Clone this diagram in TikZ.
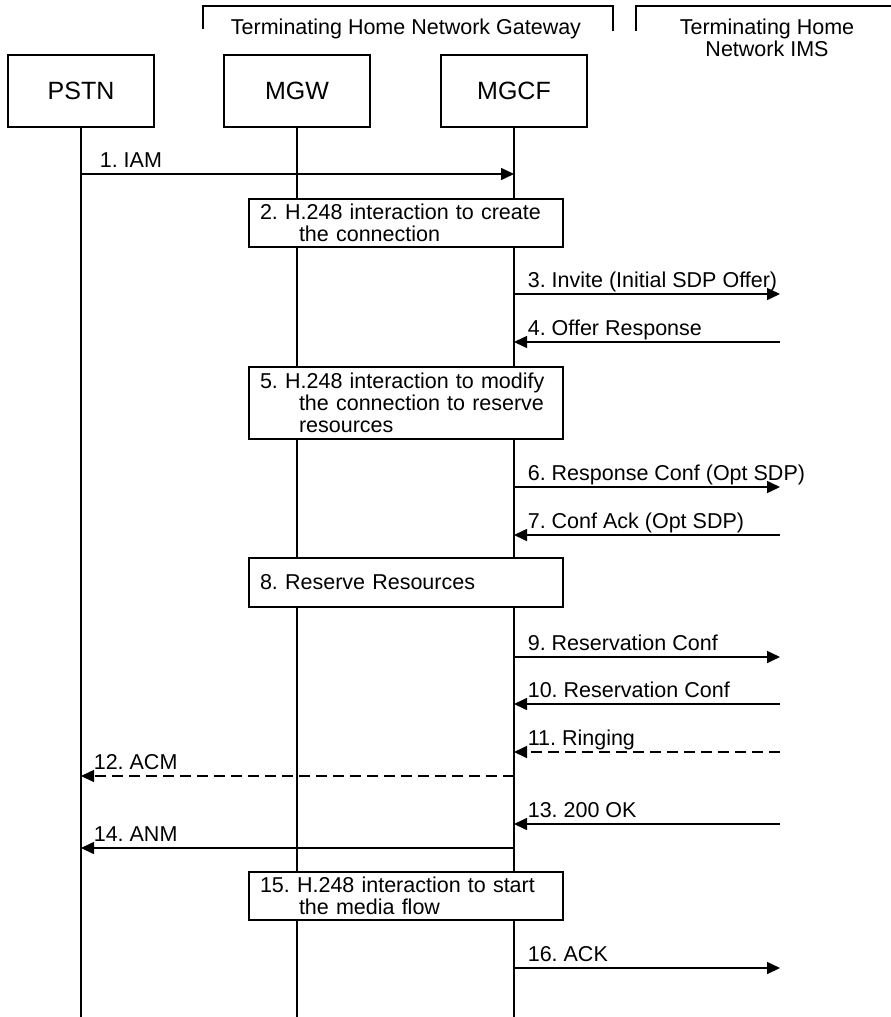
\documentclass[tikz,border=0pt]{standalone}
\usepackage{fontspec}
\setmainfont{Liberation Sans}
\usetikzlibrary{arrows.meta, calc}

\begin{document}
\frenchspacing
\begin{tikzpicture}[x=1pt, y=-1pt, line width=1.6pt,
    font=\fontsize{21.5}{22}\selectfont,
    entity/.style={draw, minimum width=146pt, minimum height=72pt, inner sep=0pt, font=\fontsize{25}{28}\selectfont},
    action/.style={draw, fill=white, minimum width=314pt, text width=292pt, inner xsep=11pt, inner ysep=0pt, align=left},
    msg/.style={-{Triangle[length=13pt, width=12pt]}},
    reply/.style={msg, dash pattern=on 11pt off 6pt},
    tag/.style={anchor=base west, inner sep=0pt}]
    \useasboundingbox (0,0) rectangle (891,1017);

    % network brackets
    \draw (203,29) |- (613,6) -- (613,31);
    \draw (636,31) -- (636,6) -- (891,6);
    \node (gwlabel) at (406,29) {Terminating Home Network Gateway};
    \node[align=center] (imslabel) at (767,38) {Terminating Home\\Network IMS};

    % entities and life lines
    \node[entity] (pstn) at (81,91) {PSTN};
    \node[entity] (mgw) at (297,91) {MGW};
    \node[entity] (mgcf) at (514,91) {MGCF};
    \coordinate (ims) at (780,91);
    \draw (pstn.south) -- (pstn.south |- 0,1017);
    \draw (mgw.south) -- (mgw.south |- 0,1017);
    \draw (mgcf.south) -- (mgcf.south |- 0,1017);

    % H.248 actions
    \node[action, minimum height=48pt] (act2) at (406,223) {2. H.248 interaction to create\\\hspace*{39pt}the connection};
    \node[action, minimum height=72pt] (act5) at (406,403) {5. H.248 interaction to modify\\\hspace*{39pt}the connection to reserve\\\hspace*{39pt}resources};
    \node[action, minimum height=49pt] (act8) at (406,582.5) {8. Reserve Resources};
    \node[action, minimum height=48pt] (act15) at (406,896) {15. H.248 interaction to start\\\hspace*{39pt}the media flow};

    % messages
    \draw[msg] (pstn |- 0,174) -- (mgcf |- 0,174);
    \node[tag] (l1) at (99,167) {1. IAM};
    \draw[msg] (mgcf |- 0,294) -- (ims |- 0,294);
    \node[tag] (l3) at (527,287) {3. Invite (Initial SDP Offer)};
    \draw[msg] (ims |- 0,342) -- (mgcf |- 0,342);
    \node[tag] (l4) at (527,335) {4. Offer Response};
    \draw[msg] (mgcf |- 0,487) -- (ims |- 0,487);
    \node[tag] (l6) at (527,480) {6. Response Conf (Opt SDP)};
    \draw[msg] (ims |- 0,535) -- (mgcf |- 0,535);
    \node[tag] (l7) at (527,528) {7. Conf Ack (Opt SDP)};
    \draw[msg] (mgcf |- 0,657) -- (ims |- 0,657);
    \node[tag] (l9) at (527,650) {9. Reservation Conf};
    \draw[msg] (ims |- 0,704) -- (mgcf |- 0,704);
    \node[tag] (l10) at (527,697) {10. Reservation Conf};
    \draw[reply] (ims |- 0,752) -- (mgcf |- 0,752);
    \node[tag] (l11) at (527,745) {11. Ringing};
    \draw[reply] (mgcf |- 0,776) -- (pstn |- 0,776);
    \node[tag] (l12) at (93,769) {12. ACM};
    \draw[msg] (ims |- 0,824) -- (mgcf |- 0,824);
    \node[tag] (l13) at (527,817) {13. 200 OK};
    \draw[msg] (mgcf |- 0,848) -- (pstn |- 0,848);
    \node[tag] (l14) at (93,841) {14. ANM};
    \draw[msg] (mgcf |- 0,968) -- (ims |- 0,968);
    \node[tag] (l16) at (527,961) {16. ACK};
\end{tikzpicture}
\end{document}
